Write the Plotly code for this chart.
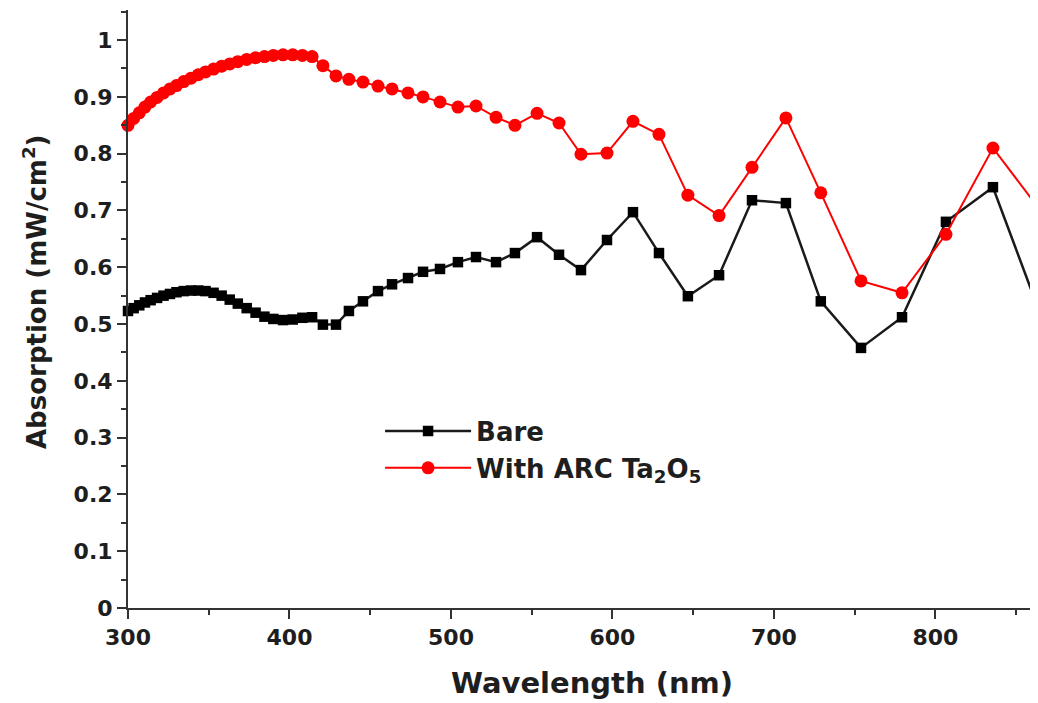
import plotly.graph_objects as go

wavelength = [300, 303.5, 307, 310.5, 314, 318, 322, 326, 330, 334.5, 339, 343.5, 348,
              353, 358, 363, 368, 373.5, 379, 384.5, 390, 396, 402, 408, 414, 420.7,
              428.8, 436.8, 445.5, 454.8, 463.5, 473.4, 482.7, 493.2, 504.3, 515.5,
              527.9, 539.6, 553.3, 566.9, 580.5, 596.6, 612.7, 628.8, 646.7, 666.0,
              686.4, 707.4, 729.0, 753.9, 779.3, 806.5, 835.6, 864.7]

bare = [0.523, 0.528, 0.533, 0.538, 0.542, 0.546, 0.550, 0.553, 0.556, 0.558, 0.559,
        0.559, 0.558, 0.555, 0.550, 0.543, 0.536, 0.528, 0.520, 0.513, 0.509, 0.507,
        0.508, 0.511, 0.512, 0.499, 0.499, 0.523, 0.540, 0.558, 0.570, 0.581, 0.592,
        0.597, 0.609, 0.618, 0.609, 0.625, 0.653, 0.622, 0.595, 0.648, 0.697, 0.625,
        0.549, 0.586, 0.718, 0.713, 0.540, 0.458, 0.512, 0.680, 0.741, 0.519]

arc = [0.850, 0.862, 0.872, 0.882, 0.891, 0.899, 0.907, 0.914, 0.920, 0.927, 0.933,
       0.939, 0.944, 0.949, 0.954, 0.958, 0.962, 0.966, 0.969, 0.971, 0.973, 0.974,
       0.974, 0.973, 0.971, 0.955, 0.937, 0.931, 0.926, 0.919, 0.914, 0.907, 0.900,
       0.891, 0.882, 0.884, 0.864, 0.850, 0.871, 0.854, 0.799, 0.801, 0.857, 0.834,
       0.727, 0.691, 0.776, 0.863, 0.731, 0.576, 0.555, 0.658, 0.810, 0.701]

names = ["Bare", "With ARC Ta<sub>2</sub>O<sub>5</sub>"]
x_title = "Wavelength (nm)"
y_title = "Absorption (mW/cm<sup>2</sup>)"

FONT = "DejaVu Sans, Verdana, sans-serif"
TXT = "#1e1e1e"
AX = "#333333"

fig = go.Figure()
fig.add_trace(go.Scatter(
    x=wavelength, y=bare, name=names[0], mode="lines+markers", cliponaxis=False,
    line=dict(color="#1a1a1a", width=2.5),
    marker=dict(symbol="square", size=10.5, color="black"),
))
fig.add_trace(go.Scatter(
    x=wavelength, y=arc, name=names[1], mode="lines+markers", cliponaxis=False,
    line=dict(color="#ff0000", width=2),
    marker=dict(symbol="circle", size=13, color="#ff0000"),
))

fig.update_layout(
    width=1030, height=703,
    margin=dict(l=120, r=0, t=2, b=103, autoexpand=False),
    paper_bgcolor="white", plot_bgcolor="white",
    font=dict(family=FONT, color=TXT),
    showlegend=True,
    legend=dict(x=0.277, y=0.335, xanchor="left", yanchor="top",
                bgcolor="rgba(0,0,0,0)", itemwidth=86,
                font=dict(family=FONT, size=26, color=TXT, weight="bold"),
                tracegroupgap=0),
    annotations=[
        dict(text=x_title, xref="paper", yref="paper", x=(592 - 128) / 910,
             y=-(683 - 608) / 598, xanchor="center", yanchor="middle", showarrow=False,
             font=dict(family=FONT, size=29, color=TXT, weight="bold")),
        dict(text=y_title, xref="paper", yref="paper", x=(35 - 128) / 910,
             y=(608 - 292) / 598, xanchor="center", yanchor="middle", showarrow=False,
             textangle=-90,
             font=dict(family=FONT, size=26, color=TXT, weight="bold")),
    ],
)
fig.update_xaxes(
    range=[300, 863.5], showgrid=False, zeroline=False,
    showline=True, linecolor=AX, linewidth=2,
    ticks="outside", ticklen=9, tickwidth=2, tickcolor=AX,
    dtick=100, tick0=300,
    minor=dict(ticks="outside", ticklen=5, tickwidth=2, tickcolor=AX, dtick=50),
    tickfont=dict(family=FONT, size=22, color=TXT, weight="bold"),
)
fig.update_yaxes(
    range=[0, 1.053], showgrid=False, zeroline=False,
    showline=True, linecolor=AX, linewidth=2,
    ticks="outside", ticklen=9, tickwidth=2, tickcolor=AX,
    dtick=0.1, tick0=0,
    minor=dict(ticks="outside", ticklen=5, tickwidth=2, tickcolor=AX, dtick=0.05),
    tickfont=dict(family=FONT, size=22, color=TXT, weight="bold"),
)

fig.write_html("out.html")
